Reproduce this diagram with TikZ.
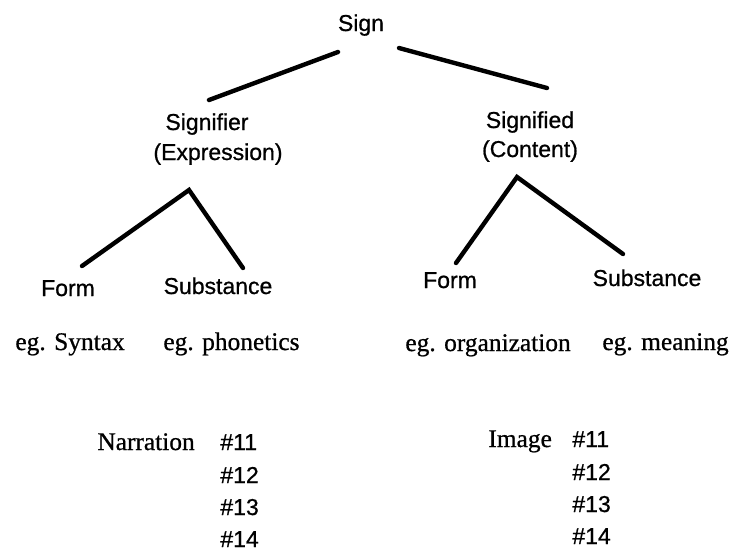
\documentclass[tikz,border=0pt]{standalone}
\usepackage{fontspec}
\newfontfamily\treesans{Liberation Sans}[FakeBold=0.8]
\newfontfamily\treeserif{Liberation Serif}[FakeBold=0.8]

\begin{document}
\begin{tikzpicture}[x=0.5pt,y=-0.5pt,
    lbl/.style={anchor=base,inner sep=0pt,font=\treesans\fontsize{11.5}{13}\selectfont},
    num/.style={lbl,anchor=base west},
    eg/.style={anchor=base west,inner sep=0pt,font=\treeserif\fontsize{12.7}{15}\selectfont},
    branch/.style={line width=2.2pt,line cap=round}]

    \useasboundingbox (0,0) rectangle (732,554);

    % top of the tree
    \node[lbl] (sign) at (361,31) {Sign};
    \node[lbl] (signifier) at (207,130) {Signifier};
    \node[lbl] (expression) at (218,160) {(Expression)};
    \node[lbl] (signified) at (530,128) {Signified};
    \node[lbl] (content) at (530,157) {(Content)};

    \draw[branch] ([shift={(-23,21)}]sign.base) -- ([shift={(2,-30)}]signifier.base);
    \draw[branch] ([shift={(38,17)}]sign.base) -- ([shift={(17,-40)}]signified.base);

    % expression side
    \begin{scope}
    \node[lbl] (formL) at (68,296) {Form};
    \node[lbl] (substL) at (218,294) {Substance};
    \coordinate (apexL) at ([shift={(-29,30)}]expression.base);
    \draw[branch] ([shift={(14,-30)}]formL.base) -- (apexL) -- ([shift={(25,-26)}]substL.base);
    \node[eg] (syntax) at (15,350) {eg. Syntax};
    \node[eg] (phonetics) at (163,350) {eg. phonetics};
    \end{scope}

    % content side
    \begin{scope}
    \node[lbl] (formR) at (450,288) {Form};
    \node[lbl] (substR) at (647,286) {Substance};
    \coordinate (apexR) at ([shift={(-13,20)}]content.base);
    \draw[branch] ([shift={(6,-25)}]formR.base) -- (apexR) -- ([shift={(-24,-32)}]substR.base);
    \node[eg] (organization) at (405,351) {eg. organization};
    \node[eg] (meaning) at (602,350) {eg. meaning};
    \end{scope}

    % episode numbers
    \node[eg] (narration) at (97,450) {Narration};
    \node[num] (n11) at (220,450) {\#11};
    \node[num] (n12) at (220,483) {\#12};
    \node[num] (n13) at (220,515) {\#13};
    \node[num] (n14) at (220,547) {\#14};

    \node[eg] (image) at (488,447) {Image};
    \node[num] (i11) at (572,447) {\#11};
    \node[num] (i12) at (572,480) {\#12};
    \node[num] (i13) at (572,512) {\#13};
    \node[num] (i14) at (572,544) {\#14};
\end{tikzpicture}
\end{document}
